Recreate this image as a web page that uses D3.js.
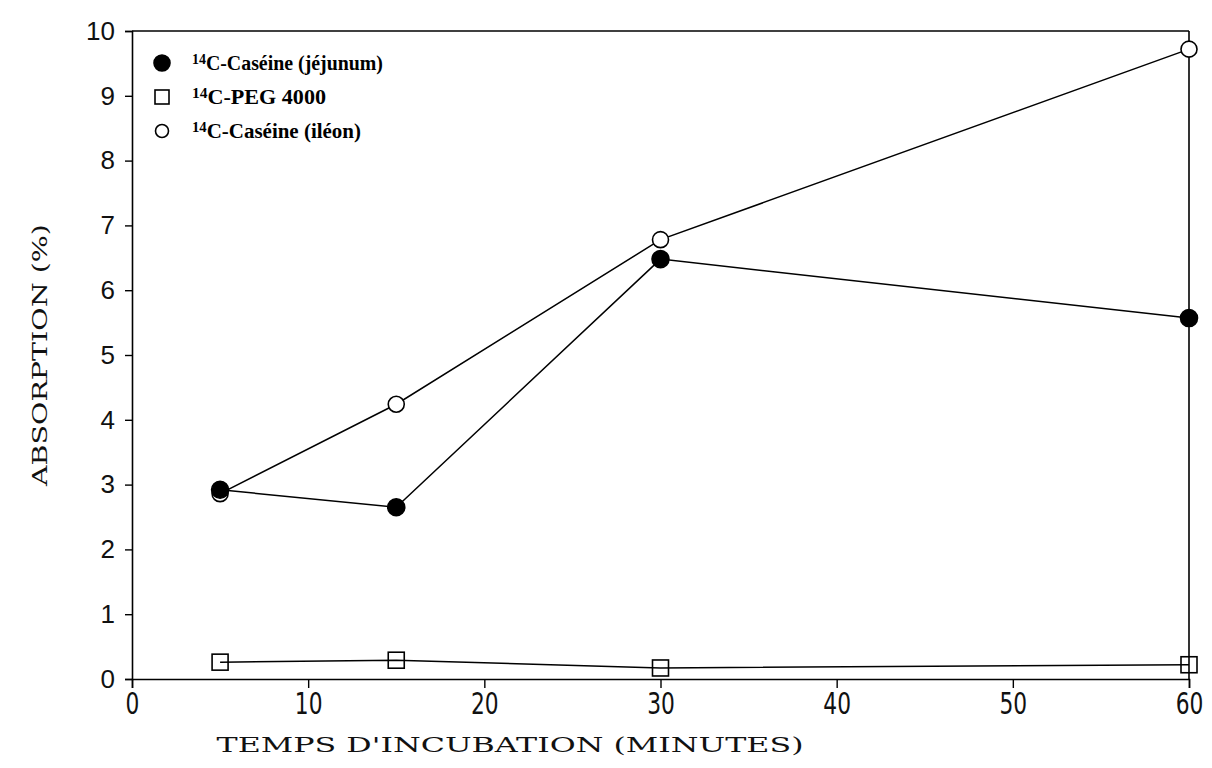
<!DOCTYPE html>
<html>
<head>
<meta charset="utf-8">
<script src="https://cdn.jsdelivr.net/npm/d3@7"></script>
<style>
  html, body { margin: 0; padding: 0; background: #fff; }
  svg { display: block; }
</style>
</head>
<body>
<svg id="chart" width="1212" height="768"></svg>
<script>
// ---- data ----
const times = [5, 15, 30, 60];
const jejunum = [2.92, 2.65, 6.48, 5.57];
const peg = [0.26, 0.29, 0.17, 0.22];
const ileon = [2.86, 4.24, 6.78, 9.72];
const xTicks = [0, 10, 20, 30, 40, 50, 60];
const yTicks = [0, 1, 2, 3, 4, 5, 6, 7, 8, 9, 10];
const legendLabels = ["C-Caséine (jéjunum)", "C-PEG 4000", "C-Caséine (iléon)"];
const xTitle = "TEMPS D'INCUBATION (MINUTES)";
const yTitle = "ABSORPTION (%)";

const svg = d3.select("#chart");
const L = 132, R = 1189, T = 31, B = 679;
const x = d3.scaleLinear().domain([0, 60]).range([L, R]);
const y = d3.scaleLinear().domain([0, 10]).range([B, T]);

// frame top & right
svg.append("line").attr("x1", L).attr("x2", R).attr("y1", T).attr("y2", T)
  .attr("stroke", "#000").attr("stroke-width", 1.6);
svg.append("line").attr("x1", R).attr("x2", R).attr("y1", T).attr("y2", B)
  .attr("stroke", "#000").attr("stroke-width", 1.6);

// axes
const xAxis = d3.axisBottom(x).tickValues(xTicks).tickSize(9).tickPadding(4).tickFormat(d3.format("d"));
const gx = svg.append("g").attr("transform", `translate(0,${B})`).call(xAxis);
gx.select(".domain").attr("stroke-width", 1.6);
gx.selectAll(".tick line").attr("stroke-width", 1.4);
gx.selectAll(".tick text")
  .attr("font-family", "'Liberation Sans Narrow', 'DejaVu Sans Condensed', sans-serif")
  .attr("font-size", 31).attr("font-weight", 300).attr("fill", "#111")
  .attr("transform", "scale(0.78,1)");

const yAxis = d3.axisLeft(y).tickValues(yTicks).tickSize(7).tickPadding(10).tickFormat(d3.format("d"));
const gy = svg.append("g").attr("transform", `translate(${L},0)`).call(yAxis);
gy.select(".domain").attr("stroke-width", 1.6);
gy.selectAll(".tick line").attr("stroke-width", 1.4);
gy.selectAll("text").attr("font-family", "'Liberation Sans', Arial, sans-serif")
  .attr("font-size", 26).attr("font-weight", 300).attr("fill", "#111");

// axis titles
svg.append("text").attr("x", 510).attr("y", 752)
  .attr("text-anchor", "middle")
  .attr("font-family", "'DejaVu Serif', 'Liberation Serif', serif")
  .attr("font-size", 21).attr("fill", "#111")
  .attr("textLength", 587).attr("lengthAdjust", "spacingAndGlyphs")
  .text(xTitle);
svg.append("text")
  .attr("transform", `translate(47,355) rotate(-90)`)
  .attr("text-anchor", "middle")
  .attr("font-family", "'DejaVu Serif', 'Liberation Serif', serif")
  .attr("font-size", 21).attr("fill", "#111")
  .attr("textLength", 262).attr("lengthAdjust", "spacingAndGlyphs")
  .text(yTitle);

// lines
const line = d3.line().x((d, i) => x(times[i])).y(d => y(d));
[jejunum, peg, ileon].forEach(s => {
  svg.append("path").datum(s).attr("d", line)
    .attr("fill", "none").attr("stroke", "#000").attr("stroke-width", 1.5);
});

// markers
function drawCircle(g, cx, cy, filled, r) {
  g.append("circle").attr("cx", cx).attr("cy", cy).attr("r", r || (filled ? 8.5 : 8))
    .attr("fill", filled ? "#000" : "#fff").attr("stroke", "#000").attr("stroke-width", 1.6);
}
function drawSquare(g, cx, cy, s) {
  const h = (s || 16) / 2;
  g.append("rect").attr("x", cx - h).attr("y", cy - h).attr("width", 2 * h).attr("height", 2 * h)
    .attr("fill", "none").attr("stroke", "#000").attr("stroke-width", 1.6);
}
const mk = svg.append("g");
peg.forEach((v, i) => drawSquare(mk, x(times[i]), y(v)));
ileon.forEach((v, i) => drawCircle(mk, x(times[i]), y(v), false));
jejunum.forEach((v, i) => drawCircle(mk, x(times[i]), y(v), true));

// legend
const legRows = [63, 97, 131];
const legWidths = [191, 134, 169];
const lg = svg.append("g");
legendLabels.forEach((lab, i) => {
  const cy = legRows[i];
  if (i === 0) drawCircle(lg, 162, cy, true, 8);
  if (i === 1) drawSquare(lg, 162, cy, 14);
  if (i === 2) drawCircle(lg, 162, cy, false, 6.5);
  const t = lg.append("text").attr("x", 192).attr("y", cy + 7)
    .attr("font-family", "'Liberation Serif', 'DejaVu Serif', serif")
    .attr("font-weight", "bold").attr("font-size", 20).attr("fill", "#000")
    .attr("textLength", legWidths[i]).attr("lengthAdjust", "spacingAndGlyphs");
  t.append("tspan").attr("font-size", 14).attr("dy", -6).text("14");
  t.append("tspan").attr("dy", 6).text(lab);
});
</script>
</body>
</html>
